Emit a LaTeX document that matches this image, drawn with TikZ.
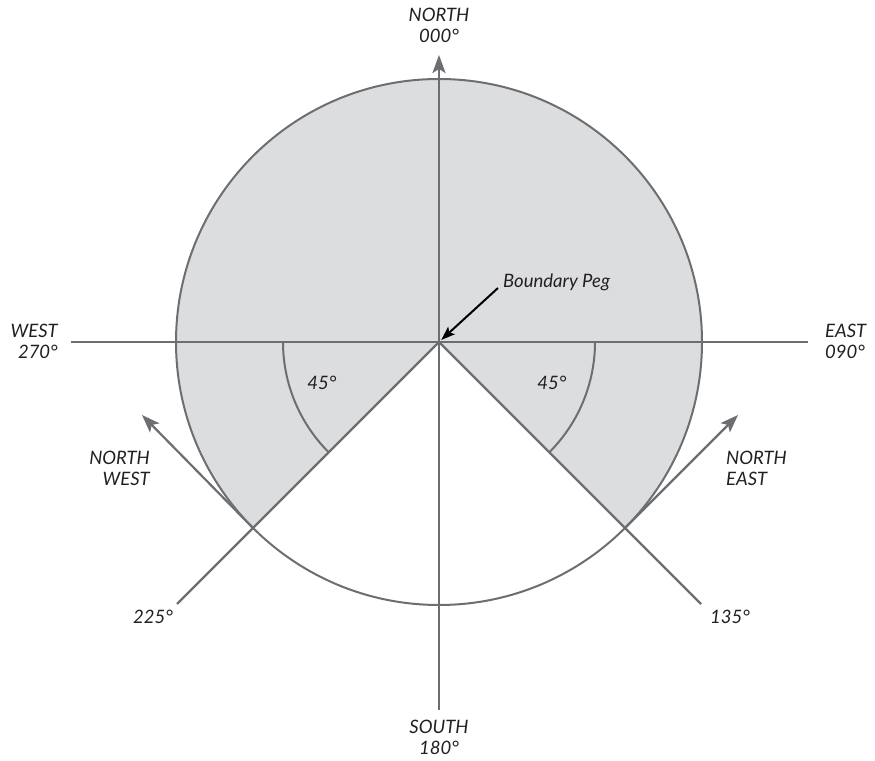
\documentclass[tikz,border=0pt]{standalone}
\usepackage{fontspec}
\setmainfont{Lato}
\usetikzlibrary{arrows.meta}
\definecolor{ln}{HTML}{6D6E71}
\definecolor{fl}{HTML}{DCDDDF}
\definecolor{tx}{HTML}{231F20}
\begin{document}
\begin{tikzpicture}[x=1pt,y=1pt,
  lbl/.style={font=\fontsize{18.5}{21}\selectfont\itshape, text=tx, inner sep=0pt},
  axisline/.style={draw=ln, line width=2.6pt},
  rayline/.style={draw=ln, line width=2.2pt},
  greytip/.style={-{Stealth[length=18pt,width=13pt,inset=4pt]}},
  pegtip/.style={-{Stealth[length=14pt,width=10pt,inset=3pt]}},
]
\useasboundingbox (0,0) rectangle (875,760);
\coordinate (C) at (439,418);
% shaded area
\fill[fl] (C) -- ++(-45:263) arc[start angle=-45, end angle=225, radius=263] -- cycle;
% circle
\draw[ln, line width=2pt] (C) circle[radius=263];
% angle arcs
\draw[ln, line width=2pt] (595,418) arc[start angle=0, end angle=-45, radius=156];
\draw[ln, line width=2pt] (283,418) arc[start angle=180, end angle=225, radius=156];
% coordinates
\coordinate (Ntip) at (439,705);
\coordinate (Send) at (439,50);
\coordinate (Wend) at (71,418);
\coordinate (Eend) at (808,418);
\coordinate (SWc) at (253,232);
\coordinate (SEc) at (625,232);
\coordinate (SWend) at (177,156);
\coordinate (SEend) at (701,156);
\coordinate (NWtip) at (142,345);
\coordinate (NEtip) at (738,345);
% axes
\draw[axisline] (Wend) -- (Eend);
\draw[axisline, greytip] (Send) -- (Ntip);
% radial lines
\draw[rayline] (C) -- (SWend);
\draw[rayline] (C) -- (SEend);
% tangent arrows
\draw[rayline, greytip] (SWc) -- (NWtip);
\draw[rayline, greytip] (SEc) -- (NEtip);
% labels
\node[lbl, align=center] (north) at (439,735) {NORTH\\000°};
\node[lbl, align=center] (south) at (439,22.5) {SOUTH\\180°};
\node[lbl, align=right, anchor=east] (west) at (58,418.5) {WEST\\270°};
\node[lbl, align=left, anchor=west] (east) at (825,418.5) {EAST\\090°};
\node[lbl, align=right, anchor=east] (nw) at (150,291.5) {NORTH\\WEST};
\node[lbl, align=left, anchor=west] (ne) at (726,291.5) {NORTH\\EAST};
\node[lbl] (a225) at (153,143) {225°};
\node[lbl] (a135) at (730,143) {135°};
\node[lbl] (q1) at (322,377) {45°};
\node[lbl] (q2) at (552,377) {45°};
\node[lbl, anchor=west] (peg) at (503,478) {Boundary Peg};
\coordinate (pegtail) at (498,472);
\draw[black, line width=2pt, pegtip, shorten >=3pt] (pegtail) -- (C);
\end{tikzpicture}
\end{document}
